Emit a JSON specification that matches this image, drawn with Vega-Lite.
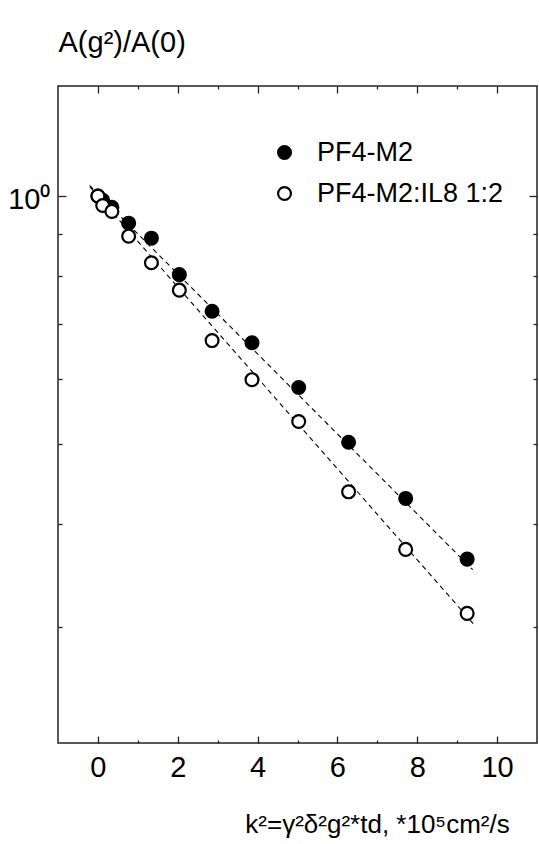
{
  "$schema": "https://vega.github.io/schema/vega-lite/v6.json",
  "width": 479,
  "height": 657,
  "autosize": {"type": "none"},
  "padding": {"left": 58, "top": 86, "right": 2, "bottom": 101},
  "background": "white",
  "config": {
    "view": {"stroke": "#222", "strokeWidth": 1.5},
    "font": "Liberation Sans",
    "axis": {"domain": false, "grid": false, "tickColor": "#222", "tickWidth": 1.3, "labelColor": "black", "titleColor": "black", "labelFont": "Liberation Sans", "titleFont": "Liberation Sans", "titleFontWeight": "normal", "labelOverlap": false}
  },
  "datasets": {
    "points": [
      {"series": "PF4-M2", "k2": 0.0, "ratio": 1.0},
      {"series": "PF4-M2", "k2": 0.12, "ratio": 0.988},
      {"series": "PF4-M2", "k2": 0.35, "ratio": 0.969},
      {"series": "PF4-M2", "k2": 0.77, "ratio": 0.927},
      {"series": "PF4-M2", "k2": 1.34, "ratio": 0.889},
      {"series": "PF4-M2", "k2": 2.04, "ratio": 0.803},
      {"series": "PF4-M2", "k2": 2.86, "ratio": 0.725},
      {"series": "PF4-M2", "k2": 3.86, "ratio": 0.664},
      {"series": "PF4-M2", "k2": 5.03, "ratio": 0.586},
      {"series": "PF4-M2", "k2": 6.28, "ratio": 0.503},
      {"series": "PF4-M2", "k2": 7.71, "ratio": 0.43},
      {"series": "PF4-M2", "k2": 9.25, "ratio": 0.363},
      {"series": "PF4-M2:IL8 1:2", "k2": 0.0, "ratio": 1.0},
      {"series": "PF4-M2:IL8 1:2", "k2": 0.12, "ratio": 0.974},
      {"series": "PF4-M2:IL8 1:2", "k2": 0.35, "ratio": 0.958},
      {"series": "PF4-M2:IL8 1:2", "k2": 0.77, "ratio": 0.894},
      {"series": "PF4-M2:IL8 1:2", "k2": 1.34, "ratio": 0.83},
      {"series": "PF4-M2:IL8 1:2", "k2": 2.04, "ratio": 0.769},
      {"series": "PF4-M2:IL8 1:2", "k2": 2.86, "ratio": 0.668},
      {"series": "PF4-M2:IL8 1:2", "k2": 3.86, "ratio": 0.599},
      {"series": "PF4-M2:IL8 1:2", "k2": 5.03, "ratio": 0.533},
      {"series": "PF4-M2:IL8 1:2", "k2": 6.28, "ratio": 0.438},
      {"series": "PF4-M2:IL8 1:2", "k2": 7.71, "ratio": 0.373},
      {"series": "PF4-M2:IL8 1:2", "k2": 9.25, "ratio": 0.312}
    ],
    "fits": [
      {"series": "PF4-M2", "k2": -0.21, "ratio": 1.03},
      {"series": "PF4-M2", "k2": 9.39, "ratio": 0.3525},
      {"series": "PF4-M2:IL8 1:2", "k2": -0.2, "ratio": 1.026},
      {"series": "PF4-M2:IL8 1:2", "k2": 9.46, "ratio": 0.301}
    ]
  },
  "resolve": {"axis": {"x": "independent", "y": "independent"}},
  "layer": [
    {
      "data": {"name": "fits"},
      "mark": {"type": "line", "stroke": "black", "strokeWidth": 1.1, "strokeDash": [5, 4]},
      "encoding": {
        "x": {
          "field": "k2", "type": "quantitative",
          "scale": {"domain": [-1, 11], "nice": false, "zero": false},
          "axis": {
            "orient": "bottom",
            "values": [0, 1, 2, 3, 4, 5, 6, 7, 8, 9, 10],
            "labelExpr": "datum.value % 2 == 0 ? datum.label : ''",
            "tickSize": {"condition": {"test": "datum.value % 2 == 0", "value": -7}, "value": -3},
            "labelPadding": 17,
            "labelFontSize": 29,
            "title": "k²=γ²δ²g²*td, *10⁵cm²/s",
            "titleFontSize": 26,
            "titleX": 319,
            "titleY": 89,
            "titleAlign": "center",
            "titleBaseline": "alphabetic"
          }
        },
        "y": {
          "field": "ratio", "type": "quantitative",
          "scale": {"type": "log", "domain": [0.2173, 1.3594], "nice": false, "zero": false},
          "axis": {
            "orient": "left",
            "values": [0.3, 0.4, 0.5, 0.6, 0.7, 0.8, 0.9, 1],
            "labelExpr": "datum.value == 1 ? '10⁰' : ''",
            "tickSize": {"condition": {"test": "datum.value == 1", "value": -8}, "value": -4},
            "labelPadding": 16,
            "labelOffset": 3,
            "labelFontSize": 29,
            "title": "A(g²)/A(0)",
            "titleFontSize": 29,
            "titleAngle": 0,
            "titleAlign": "left",
            "titleBaseline": "alphabetic",
            "titleX": 0,
            "titleY": -35
          }
        },
        "detail": {"field": "series", "type": "nominal"}
      }
    },
    {
      "data": {"name": "points"},
      "mark": {"type": "point", "shape": "circle", "size": 165, "strokeWidth": 2.2, "stroke": "black", "opacity": 1, "filled": true},
      "encoding": {
        "x": {
          "field": "k2", "type": "quantitative",
          "axis": {
            "orient": "top",
            "values": [0, 1, 2, 3, 4, 5, 6, 7, 8, 9, 10],
            "labels": false,
            "title": null,
            "tickSize": {"condition": {"test": "datum.value % 2 == 0", "value": -7}, "value": -3}
          }
        },
        "y": {
          "field": "ratio", "type": "quantitative",
          "axis": {
            "orient": "right",
            "values": [0.3, 0.4, 0.5, 0.6, 0.7, 0.8, 0.9, 1],
            "labels": false,
            "title": null,
            "tickSize": {"condition": {"test": "datum.value == 1", "value": -8}, "value": -4}
          }
        },
        "fill": {
          "field": "series", "type": "nominal",
          "scale": {"domain": ["PF4-M2", "PF4-M2:IL8 1:2"], "range": ["black", "white"]},
          "legend": {
            "title": null,
            "orient": "none",
            "legendX": 213,
            "legendY": 53,
            "padding": 0,
            "symbolType": "circle",
            "symbolSize": 165,
            "symbolStrokeColor": "black",
            "symbolStrokeWidth": 2.2,
            "labelFontSize": 27,
            "labelFont": "Liberation Sans",
            "labelColor": "black",
            "labelOffset": 19,
            "rowPadding": 13,
            "labelLimit": 400
          }
        }
      }
    }
  ]
}
